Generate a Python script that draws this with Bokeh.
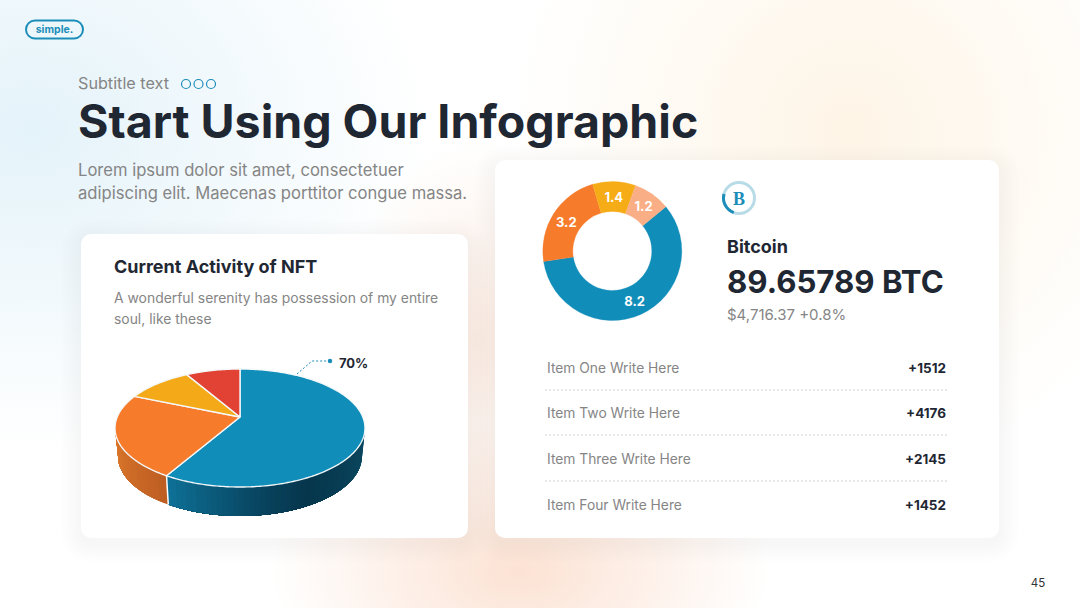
import math
from bokeh.plotting import figure
from bokeh.models import Range1d
from bokeh.core.properties import value
from bokeh.embed import file_html
from bokeh.resources import INLINE

# ---- data ----
pie_shares = [60, 24, 9, 7]
pie_colors = ["#108db9", "#f67b2b", "#f4aa18", "#e24234"]
pie_label = "70%"
donut_values = [8.2, 3.2, 1.4, 1.2]
donut_colors = ["#108db9", "#f67b2b", "#f6ac17", "#f9ae85"]
item_names = ["Item One Write Here", "Item Two Write Here", "Item Three Write Here", "Item Four Write Here"]
item_values = ["+1512", "+4176", "+2145", "+1452"]

FONT = "Inter"
DARK = "#1f2733"
GREY = "#858585"
BLUE = "#1b8db8"

W, H = 1080, 608
def Y(py):
    return 608 - py

p = figure(width=W, height=H, x_range=Range1d(0.5, 1080.5), y_range=Range1d(-0.5, 607.5),
           output_backend="svg", toolbar_location=None, x_axis_type=None, y_axis_type=None,
           min_border=0, outline_line_color=None)
p.grid.visible = False
p.background_fill_alpha = 0
p.border_fill_alpha = 0
p.styles = {"position": "fixed", "left": "0px", "top": "0px", "background":
    "radial-gradient(ellipse 400px 320px at 30px 130px, rgba(196,228,243,.46), rgba(196,228,243,0)),"
    "radial-gradient(ellipse 340px 340px at 850px 130px, rgba(253,236,210,.55), rgba(253,236,210,0)),"
    "radial-gradient(ellipse 250px 150px at 520px 570px, rgba(250,208,184,.62), rgba(250,208,184,0)),"
    "radial-gradient(ellipse 140px 200px at 480px 340px, rgba(250,215,195,.45), rgba(250,215,195,0)),"
    "#ffffff"}

# ---- cards ----
def card(x0, x1, y0, y1):
    for i in range(8, 0, -1):
        e = i * 2.5
        p.quad(left=[x0 - e], right=[x1 + e], top=[Y(y0 - e + 6)], bottom=[Y(y1 + e + 4)],
               fill_color="#807c78", fill_alpha=0.006, line_color=None, border_radius=int(10 + e))
    p.quad(left=[x0], right=[x1], top=[Y(y0)], bottom=[Y(y1)], fill_color="white",
           line_color=None, border_radius=10)
card(81, 468, 234, 538)
card(495, 999, 160, 538)

# ---- text helper ----
def txt(x, y, s, size, color=DARK, bold=False, align="left", font=FONT, baseline="middle"):
    p.text([x], [Y(y)], text=[s], text_font=value(font), text_font_size=f"{size}px",
           text_color=color, text_font_style="bold" if bold else "normal",
           text_align=align, text_baseline=baseline)

# ---- header ----
p.quad(left=[26], right=[83], top=[Y(20.5)], bottom=[Y(38.5)], fill_color=None,
       line_color=BLUE, line_width=2, border_radius=9)
txt(54.5, 29.5, "simple.", 10.5, BLUE, True, "center")
txt(78, 83, "Subtitle text", 16.2, GREY)
p.scatter([186, 198.5, 211], [Y(84)] * 3, size=9, marker="circle", fill_color=None,
          line_color=BLUE, line_width=1.2)
txt(78, 121, "Start Using Our Infographic", 46.5, DARK, True)
txt(78, 170, "Lorem ipsum dolor sit amet, consectetuer", 16.6, GREY)
txt(78, 193, "adipiscing elit. Maecenas porttitor congue massa.", 16.6, GREY)
txt(1038, 582, "45", 11.5, "#333333", False, "center")

# ---- left card text ----
txt(114, 266, "Current Activity of NFT", 18, DARK, True)
txt(114, 298, "A wonderful serenity has possession of my entire", 13.9, GREY)
txt(114, 319, "soul, like these", 13.9, GREY)

# ---- 3D pie ----
CX, CY, RX, RY = 240, 428, 125, 59
AX, AY = 240, 417
BX, BY, BRX, BRY = 240, 456, 122, 60
total = sum(pie_shares)
def top_pt(t):
    return CX + RX * math.sin(t), CY - RY * math.cos(t)
def bot_pt(t):
    return BX + BRX * math.sin(t), BY - BRY * math.cos(t)
def lerp(a, b, f):
    return tuple(a[i] + (b[i] - a[i]) * f for i in range(3))
def hexc(c):
    return "#%02x%02x%02x" % tuple(int(round(v)) for v in c)

bounds = [0]
for s in pie_shares:
    bounds.append(bounds[-1] + s / total * 2 * math.pi)

def wall(t0, t1, stops):
    # painted back to front: each band runs on to the wall's far end, so no seams show
    n = max(2, int(abs(t1 - t0) / math.radians(2.5)))
    m = n * 2
    for i in range(n):
        a = t0 + (t1 - t0) * i / n
        f = i / (n - 1)
        col = stops[-1][1]
        for (f0, c0), (f1, c1) in zip(stops, stops[1:]):
            if f0 <= f <= f1:
                col = lerp(c0, c1, (f - f0) / (f1 - f0))
                break
        ts = [a + (t1 - a) * k / m for k in range(m + 1)]
        pts = [top_pt(q) for q in ts] + [bot_pt(q) for q in reversed(ts)]
        p.patch([q[0] for q in pts], [Y(q[1]) for q in pts], fill_color=hexc(col), line_color=None)

# blue wall, from the rightmost point round to the end of the blue slice
wall(math.pi / 2, bounds[1],
     [(0, (11, 74, 98)), (0.45, (6, 54, 76)), (0.62, (8, 66, 92)), (1, (14, 112, 150))])
# orange wall, from the end of the blue slice to the leftmost point
wall(bounds[1], 1.5 * math.pi, [(0, (190, 94, 34)), (1, (222, 122, 44))])

# white seam on the wall
a = top_pt(bounds[1]); b = bot_pt(bounds[1])
p.line([a[0], b[0]], [Y(a[1]), Y(b[1])], line_color="white", line_width=1.5)

# top slices
for i, c in enumerate(pie_colors):
    t0, t1 = bounds[i], bounds[i + 1]
    n = max(3, int((t1 - t0) / math.radians(1)))
    pts = [top_pt(t0 + (t1 - t0) * k / n) for k in range(n + 1)]
    xs = [AX] + [q[0] for q in pts]
    ys = [Y(AY)] + [Y(q[1]) for q in pts]
    p.patch(xs, ys, fill_color=c, line_color="#f4f8fa", line_width=1.4)

# leader and label
p.line([297, 312, 330], [Y(374), Y(361), Y(361)], line_color=BLUE, line_width=1, line_dash="2 2")
p.scatter([330], [Y(361)], size=4.5, marker="circle", fill_color=BLUE, line_color=None)
txt(339, 363, pie_label, 13, DARK, True)

# ---- donut ----
DX, DY, R0, R1, RL = 612.3, 251, 39.5, 69.5, 54.5
dtotal = sum(donut_values)
start = math.radians(90 - 50.4)
ang = start
for v, c in zip(donut_values, donut_colors):
    end = ang - v / dtotal * 2 * math.pi
    p.annular_wedge([DX], [Y(DY)], inner_radius=R0, outer_radius=R1, start_angle=end, end_angle=ang,
                    fill_color=c, line_color=c, line_width=0.3)
    mid = (ang + end) / 2
    p.text([DX + RL * math.cos(mid)], [Y(DY) + RL * math.sin(mid)], text=[str(v)],
           text_font=value(FONT), text_font_size="13px", text_font_style="bold",
           text_color="white", text_align="center", text_baseline="middle")
    ang = end

# ---- bitcoin block ----
IX, IY, IR = 739, 198, 15.5
p.arc([IX], [Y(IY)], radius=IR, start_angle=0, end_angle=2 * math.pi, line_color="#b8dbe8", line_width=3)
p.arc([IX], [Y(IY)], radius=IR, start_angle=math.radians(165), end_angle=math.radians(250),
      line_color=BLUE, line_width=3)
txt(IX, IY + 0.5, "B", 18, BLUE, True, "center", font="Liberation Serif")
txt(727, 246, "Bitcoin", 18, DARK, True)
txt(727, 282, "89.65789 BTC", 31.2, DARK, True)
txt(727, 314, "$4,716.37 +0.8%", 15, GREY)

# ---- item list ----
rows_y = [368, 413, 459, 505]
for name, val, y in zip(item_names, item_values, rows_y):
    txt(547, y, name, 13.8, GREY)
    txt(946, y, val, 13.5, DARK, True, "right")
for y in [390, 435, 481]:
    p.line([545, 948], [Y(y), Y(y)], line_color="#cfd2d4", line_width=1, line_dash="2 2")

open("out.html", "w").write(file_html(p, INLINE))
